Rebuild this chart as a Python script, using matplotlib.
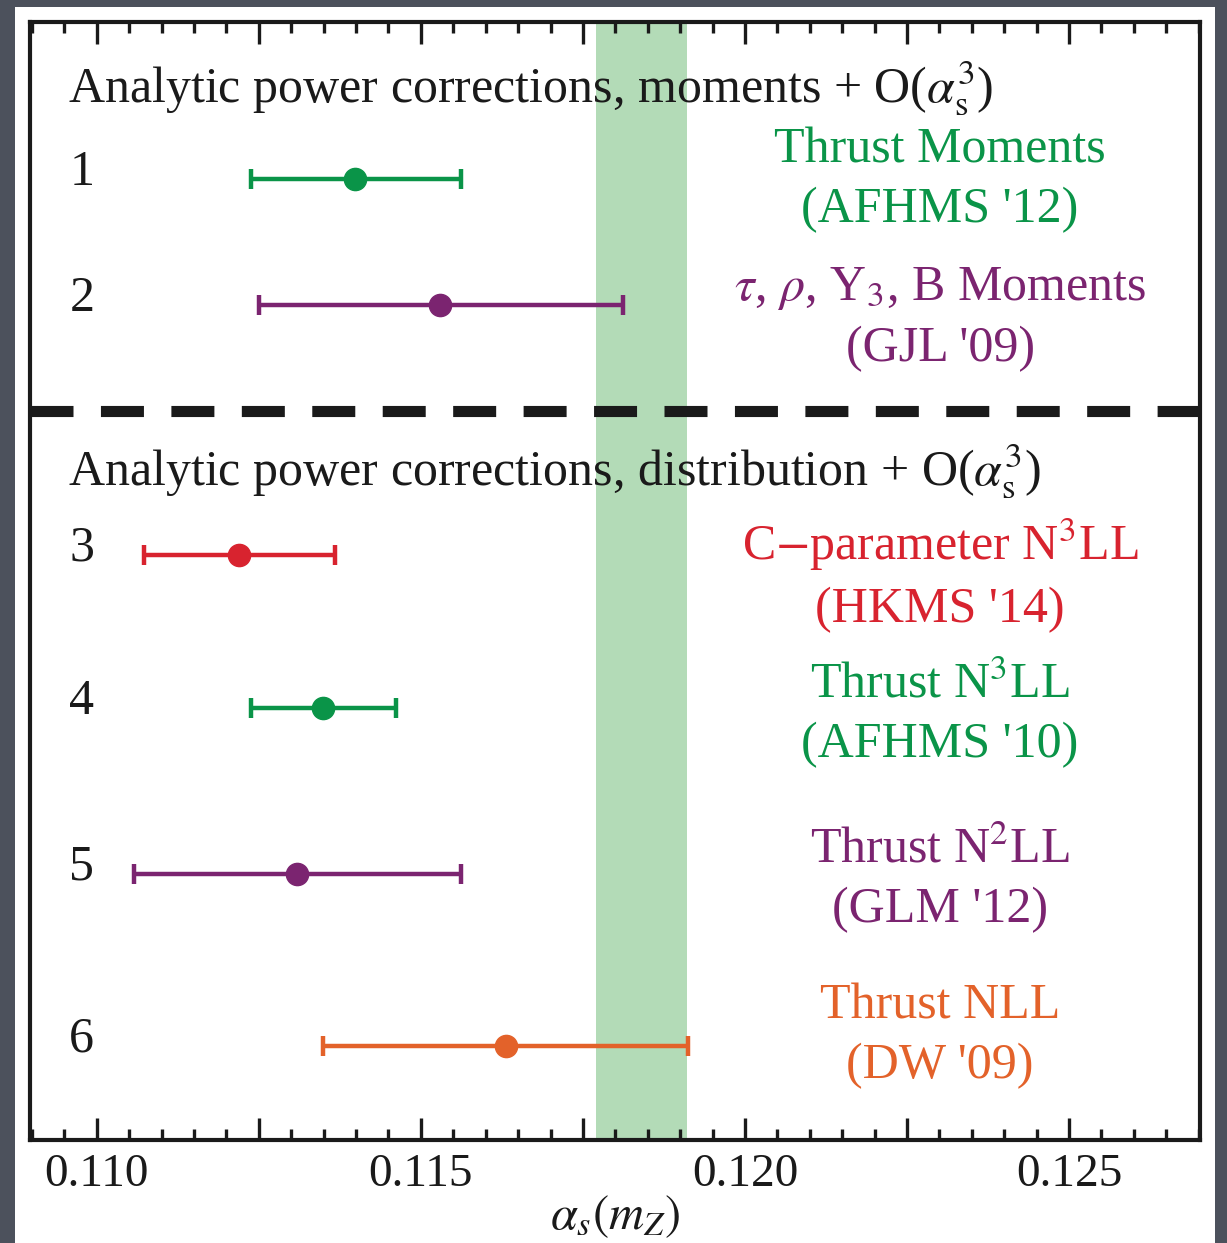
import matplotlib
matplotlib.use("Agg")
import matplotlib.pyplot as plt
from matplotlib.patches import Rectangle
from matplotlib.ticker import MultipleLocator, FixedLocator

plt.rcParams['font.family'] = ['Liberation Serif', 'DejaVu Serif']
plt.rcParams['mathtext.fontset'] = 'stix'

# ---- data ----
row_ids = ["1", "2", "3", "4", "5", "6"]
central = [0.11398, 0.11529, 0.11219, 0.11349, 0.11309, 0.11631]
err_low = [0.11238, 0.11250, 0.11073, 0.11238, 0.11057, 0.11349]
err_high = [0.11562, 0.11812, 0.11367, 0.11461, 0.11562, 0.11912]
labels = ["Thrust Moments\n(AFHMS '12)",
          r"$\tau$, $\rho$, Y$_3$, B Moments" + "\n(GJL '09)",
          r"C$-$parameter N$^3$LL" + "\n(HKMS '14)",
          r"Thrust N$^3$LL" + "\n(AFHMS '10)",
          r"Thrust N$^2$LL" + "\n(GLM '12)",
          "Thrust NLL\n(DW '09)"]
colors = ["#0a9448", "#7b2470", "#d8232f", "#0a9448", "#7b2470", "#e3622a"]
world_avg_band = (0.1177, 0.1191)
headers = [r"Analytic power corrections, moments + O($\alpha_{\rm s}^3$)",
           r"Analytic power corrections, distribution + O($\alpha_{\rm s}^3$)"]
xtick_pos = [0.110, 0.1125, 0.115, 0.1175, 0.120, 0.1225, 0.125]
xtick_labels = ["0.110", "", "0.115", "", "0.120", "", "0.125"]

# ---- layout (axes-fraction vertical positions) ----
row_y = [0.8596, 0.7469, 0.5233, 0.3864, 0.2379, 0.0841]
label_y = [0.8587, 0.7344, 0.5055, 0.3801, 0.2325, 0.0930]
header_y = [0.9410, 0.5985]
divider_y = 0.6521

W, H = 1227, 1243
fig = plt.figure(figsize=(W / 100, H / 100), dpi=100, facecolor="#4c515c")
bg = fig.add_axes([0, 0, 1, 1], zorder=-5)
bg.set_axis_off()
bg.add_patch(Rectangle((15 / W, 0), 1200 / W, 1 - 7 / H, transform=bg.transAxes,
                       facecolor="white", edgecolor="none"))

ax = fig.add_axes([30 / W, 1 - 1140 / H, 1170 / W, 1118 / H], zorder=1)
ax.set_facecolor("white")
ax.set_xlim(0.10897, 0.12702)
ax.set_ylim(0, 1)

ax.axvspan(*world_avg_band, color="#b3dbb7", zorder=0, lw=0)

for i in range(len(central)):
    c = colors[i]
    ax.errorbar([central[i]], [row_y[i]],
                xerr=[[central[i] - err_low[i]], [err_high[i] - central[i]]],
                fmt="o", color=c, ms=16, elinewidth=3.2, capsize=7, capthick=3.2, zorder=3)
    ax.text(0.10977, row_y[i] + 0.006, row_ids[i], fontsize=36, ha="center", va="center",
            color="#1a1a1a")
    ax.text(0.12301, label_y[i], labels[i], fontsize=36, ha="center", va="center",
            color=c, linespacing=1.38)

for hy, ht in zip(header_y, headers):
    ax.text(0.10955, hy, ht, fontsize=36, ha="left", va="center", color="#1a1a1a")

ax.axhline(divider_y, color="#1a1a1a", lw=8, ls=(0, (3.87, 2.47)),
           dash_capstyle="butt", zorder=4)

ax.xaxis.set_major_locator(FixedLocator(xtick_pos))
ax.set_xticklabels(xtick_labels)
ax.xaxis.set_minor_locator(MultipleLocator(0.0005))
ax.set_yticks([])
ax.tick_params(axis="x", which="major", direction="in", length=16, width=2.4,
               top=True, labelsize=34, pad=10, colors="#1a1a1a")
ax.tick_params(axis="x", which="minor", direction="in", length=8, width=2.4,
               top=True, colors="#1a1a1a")

for s in ax.spines.values():
    s.set_linewidth(3)
    s.set_color("#1a1a1a")

ax.set_xlabel(r"$\alpha_s(m_Z)$", fontsize=35, labelpad=-2, color="#1a1a1a")

fig.savefig("out.png", dpi=100, facecolor=fig.get_facecolor())
